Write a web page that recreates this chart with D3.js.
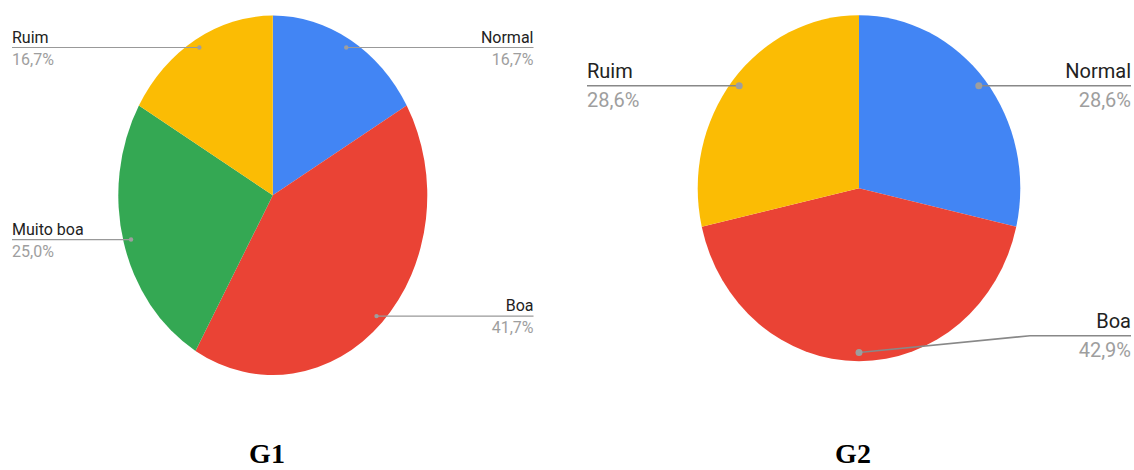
<!DOCTYPE html>
<html><head><meta charset="utf-8">
<script src="https://cdn.jsdelivr.net/npm/d3@7"></script>
<style>html,body{margin:0;padding:0;background:#fff;}svg{display:block;}</style>
</head><body>
<svg id="chart" width="1134" height="470"></svg>
<script>
const g1Categories = ["Normal", "Boa", "Muito boa", "Ruim"];
const g1Values = [16.7, 41.7, 25.0, 16.7];
const g1Colors = ["#4285F4", "#EA4335", "#34A853", "#FBBC04"];
const g2Categories = ["Normal", "Boa", "Ruim"];
const g2Values = [28.6, 42.9, 28.6];
const g2Colors = ["#4285F4", "#EA4335", "#FBBC04"];
const titles = ["G1", "G2"];

const svg = d3.select("#chart");
const fmt = v => d3.format(".1f")(v).replace(".", ",") + "%";

function drawPie(cfg) {
  const data = cfg.categories.map((c, i) => ({cat: c, value: cfg.values[i], color: cfg.colors[i]}));
  const pie = d3.pie().sort(null).value(d => d.value);
  const arcs = pie(data);
  const sy = cfg.ry / cfg.rx;
  const g = svg.append("g").attr("transform", `translate(${cfg.cx},${cfg.cy})`);
  const pg = g.append("g").attr("transform", `scale(1,${sy})`);
  const arc = d3.arc().innerRadius(0).outerRadius(cfg.rx);
  pg.selectAll("path").data(arcs).join("path")
    .attr("d", arc).attr("fill", d => d.data.color);
  const dotArc = d3.arc().innerRadius(cfg.rx * 0.95).outerRadius(cfg.rx * 0.95);
  arcs.forEach(a => {
    const c = dotArc.centroid(a);
    const dx = cfg.cx + c[0], dy = cfg.cy + c[1] * sy;
    const lab = cfg.labels[a.data.cat];
    const ly = lab.lineY !== undefined ? lab.lineY : dy;
    let pts;
    if (lab.side === "right") {
      pts = lab.bend ? [[dx, dy], [lab.bend, ly], [cfg.rightX, ly]] : [[dx, dy], [cfg.rightX, ly]];
    } else {
      pts = [[cfg.leftX, ly], [dx, dy]];
    }
    svg.append("path").attr("d", d3.line()(pts))
      .attr("fill", "none").attr("stroke", cfg.lineColor).attr("stroke-width", cfg.lineW);
    svg.append("circle").attr("cx", dx).attr("cy", dy).attr("r", cfg.dotR).attr("fill", "#9e9e9e");
    const tx = lab.side === "right" ? cfg.rightX : cfg.leftX;
    const anchor = lab.side === "right" ? "end" : "start";
    svg.append("text").attr("x", tx).attr("y", ly - cfg.above).attr("text-anchor", anchor)
      .attr("font-family", "Roboto, Arial, sans-serif").attr("font-size", cfg.fs).attr("fill", "#222")
      .text(a.data.cat);
    svg.append("text").attr("x", tx).attr("y", ly + cfg.below).attr("text-anchor", anchor)
      .attr("font-family", "Roboto, Arial, sans-serif").attr("font-size", cfg.fs).attr("fill", "#9e9e9e")
      .text(fmt(a.data.value));
  });
}

drawPie({
  categories: g1Categories, values: g1Values, colors: g1Colors,
  cx: 272.8, cy: 195.3, rx: 154.5, ry: 179.7,
  leftX: 12, rightX: 533.5, fs: 16, above: 5, below: 17,
  lineColor: "#999", lineW: 1.2, dotR: 2.2,
  labels: {
    "Normal": {side: "right"}, "Boa": {side: "right"},
    "Muito boa": {side: "left"}, "Ruim": {side: "left"}
  }
});

drawPie({
  categories: g2Categories, values: g2Values, colors: g2Colors,
  cx: 859, cy: 188.2, rx: 161.3, ry: 173,
  leftX: 587, rightX: 1131, fs: 20, above: 7.5, below: 21,
  lineColor: "#888", lineW: 1.6, dotR: 3.5,
  labels: {
    "Normal": {side: "right"},
    "Boa": {side: "right", lineY: 335.7, bend: 1030},
    "Ruim": {side: "left"}
  }
});

const titleX = [267, 853];
titles.forEach((t, i) => {
  svg.append("text").attr("x", titleX[i]).attr("y", 463).attr("text-anchor", "middle")
    .attr("font-family", "'Liberation Serif', 'Times New Roman', serif").attr("font-weight", "bold")
    .attr("font-size", 28).attr("fill", "#000").text(t);
});
</script>
</body></html>
